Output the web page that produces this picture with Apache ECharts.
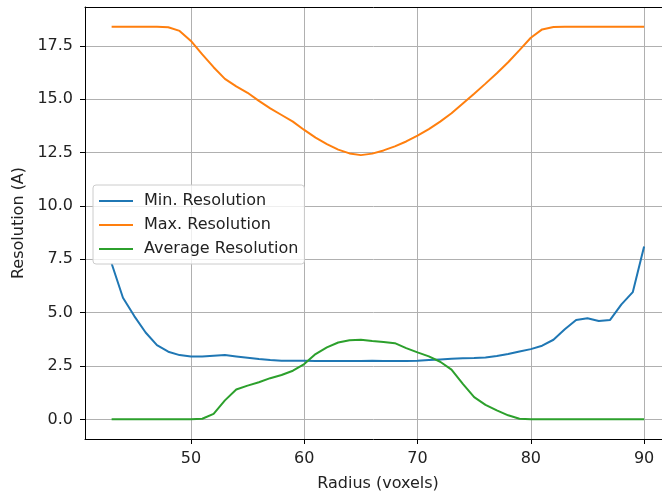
<!DOCTYPE html>
<html>
<head>
<meta charset="utf-8">
<script src="https://cdn.jsdelivr.net/npm/echarts@6/dist/echarts.min.js"></script>
<style>html,body{margin:0;padding:0;background:#fff}#c{width:662px;height:497px}</style>
</head>
<body>
<div id="c"></div>
<script>
const radius = [43,44,45,46,47,48,49,50,51,52,53,54,55,56,57,58,59,60,61,62,63,64,65,66,67,68,69,70,71,72,73,74,75,76,77,78,79,80,81,82,83,84,85,86,87,88,89,90];
const minRes = [7.3,5.70,4.84,4.07,3.48,3.17,3.01,2.95,2.95,2.98,3.01,2.95,2.89,2.83,2.78,2.75,2.75,2.75,2.73,2.73,2.73,2.73,2.74,2.75,2.74,2.73,2.73,2.75,2.78,2.81,2.84,2.86,2.87,2.90,2.97,3.06,3.18,3.29,3.45,3.73,4.22,4.66,4.74,4.61,4.66,5.39,5.96,8.1];
const maxRes = [18.4,18.4,18.4,18.4,18.4,18.37,18.2,17.73,17.1,16.5,15.95,15.6,15.3,14.92,14.57,14.26,13.95,13.56,13.2,12.9,12.64,12.46,12.38,12.45,12.6,12.79,13.02,13.29,13.6,13.95,14.34,14.8,15.26,15.73,16.22,16.73,17.3,17.88,18.27,18.38,18.4,18.4,18.4,18.4,18.4,18.4,18.4,18.4];
const avgRes = [0,0,0,0,0,0,0,0,0.03,0.26,0.89,1.4,1.58,1.74,1.93,2.08,2.28,2.59,3.06,3.37,3.6,3.71,3.73,3.67,3.63,3.57,3.34,3.14,2.95,2.7,2.33,1.66,1.04,0.68,0.42,0.19,0.03,0,0,0,0,0,0,0,0,0,0,0];
const xTicks = [50,60,70,80,90];
const yTicks = [0,2.5,5,7.5,10,12.5,15,17.5];
const seriesNames = ['Min. Resolution','Max. Resolution','Average Resolution'];
const colors = ['#1f77b4','#ff7f0e','#2ca02c'];

const pairs = arr => radius.map((r,i)=>[r,arr[i]]);
const chart = echarts.init(document.getElementById('c'), null, {renderer:'canvas'});
const font = 'DejaVu Sans';
const txt = '#222';
const fs = 16;
const xMin = 40.65, xMax = 91.58;
chart.setOption({
  animation:false,
  color: colors,
  grid:{left:85,top:7,bottom:53,right:0,show:false},
  legend:{
    orient:'vertical', left:93, top:185,
    data: seriesNames,
    icon:'rect', itemWidth:34, itemHeight:2, itemGap:6,
    padding:[7,6,6,6],
    backgroundColor:'rgba(255,255,255,0.8)', borderColor:'#cccccc', borderWidth:1, borderRadius:3,
    textStyle:{fontFamily:font,fontSize:fs,color:txt,padding:[0,0,0,6],lineHeight:18}
  },
  xAxis:[{
    type:'value', min:xMin, max:xMax,
    name:'Radius (voxels)', nameLocation:'middle', nameGap:37,
    nameTextStyle:{fontFamily:font,fontSize:fs,color:txt,padding:[0,0,0,9]},
    axisLine:{show:true,onZero:false,lineStyle:{color:'#000',width:1}},
    axisTick:{show:true,length:5,inside:false,customValues:xTicks,lineStyle:{color:'#000'}},
    axisLabel:{customValues:xTicks,fontFamily:font,fontSize:fs,color:txt,margin:12},
    splitLine:{show:true,lineStyle:{color:'#b0b0b0',width:1}}
  },{
    type:'value', min:xMin, max:xMax, position:'top',
    axisLine:{show:true,onZero:false,lineStyle:{color:'#000',width:1}},
    axisTick:{show:false}, axisLabel:{show:false}, splitLine:{show:false}
  }],
  yAxis:{
    type:'value', min:-0.92, max:19.32,
    name:'Resolution (A)', nameLocation:'middle', nameGap:52,
    nameTextStyle:{fontFamily:font,fontSize:fs,color:txt},
    axisLine:{show:true,onZero:false,lineStyle:{color:'#000',width:1}},
    axisTick:{show:true,length:5,inside:false,customValues:yTicks,lineStyle:{color:'#000'}},
    axisLabel:{customValues:yTicks,fontFamily:font,fontSize:fs,color:txt,margin:12,formatter:v=>v.toFixed(1)},
    splitLine:{show:true,lineStyle:{color:'#b0b0b0',width:1}}
  },
  series:[
    {name:seriesNames[0],type:'line',data:pairs(minRes),symbol:'none',lineStyle:{width:2},z:2},
    {name:seriesNames[1],type:'line',data:pairs(maxRes),symbol:'none',lineStyle:{width:2},z:3},
    {name:seriesNames[2],type:'line',data:pairs(avgRes),symbol:'none',lineStyle:{width:2},z:4}
  ]
});
</script>
</body>
</html>
